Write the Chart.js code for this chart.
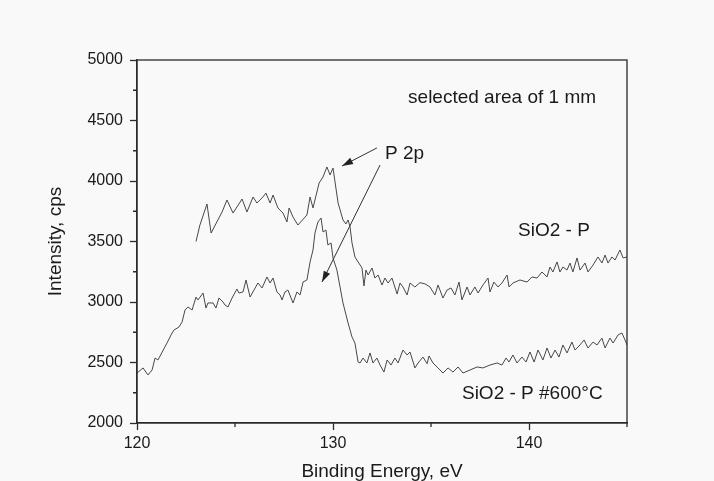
<!DOCTYPE html>
<html>
<head>
<meta charset="utf-8">
<script src="https://cdn.jsdelivr.net/npm/chart.js@4.4.0/dist/chart.umd.min.js"></script>
<style>
  html, body { margin: 0; padding: 0; background: #f9f9f9; }
  #wrap { width: 714px; height: 481px; }
</style>
</head>
<body>
<div id="wrap"><canvas id="xpsChart" width="714" height="481"></canvas></div>
<script>
// SiO2 - P (binding energy, eV / intensity, cps)
const energyP = [123.01, 123.21, 123.57, 123.78, 124.34, 124.59, 124.90, 125.36, 125.61, 125.92,
  126.12, 126.38, 126.58, 126.79, 126.94, 127.19, 127.45, 127.65, 127.76, 127.96,
  128.21, 128.67, 128.83, 128.98, 129.29, 129.49, 129.69, 129.85, 130.00, 130.26,
  130.51, 130.66, 130.77, 130.87, 130.97, 131.12, 131.38, 131.48, 131.58, 131.68,
  131.79, 131.99, 132.14, 132.30, 132.50, 132.65, 132.81, 133.01, 133.27, 133.42,
  133.57, 133.78, 133.93, 134.18, 134.44, 134.69, 134.95, 135.20, 135.36, 135.61,
  135.82, 136.02, 136.22, 136.43, 136.58, 136.84, 136.99, 137.24, 137.40, 137.65,
  137.91, 138.01, 138.21, 138.42, 138.62, 138.88, 138.98, 139.18, 139.54, 139.90,
  140.15, 140.41, 140.66, 140.92, 141.07, 141.22, 141.43, 141.58, 141.73, 141.94,
  142.09, 142.24, 142.45, 142.60, 142.86, 143.01, 143.27, 143.52, 143.72, 143.88,
  144.03, 144.23, 144.39, 144.64, 144.80, 145.00];
const countsP = [3500, 3636, 3810, 3570, 3744, 3843, 3735, 3851, 3744, 3868,
  3818, 3860, 3900, 3818, 3884, 3777, 3735, 3661, 3777, 3702,
  3636, 3719, 3868, 3777, 3983, 4033, 4116, 4050, 4107, 3818,
  3678, 3645, 3678, 3620, 3488, 3372, 3306, 3281, 3132, 3264,
  3223, 3281, 3198, 3223, 3140, 3198, 3157, 3198, 3066, 3157,
  3124, 3058, 3157, 3124, 3160, 3150, 3124, 3058, 3140, 3033,
  3099, 3116, 3058, 3165, 3017, 3124, 3058, 3124, 3074, 3140,
  3198, 3083, 3165, 3124, 3157, 3223, 3124, 3157, 3182, 3165,
  3207, 3198, 3248, 3207, 3289, 3248, 3331, 3248, 3289, 3264,
  3322, 3248, 3364, 3264, 3322, 3248, 3306, 3372, 3322, 3388,
  3322, 3372, 3347, 3430, 3364, 3372];

// SiO2 - P #600°C
const energyP600 = [120.00, 120.31, 120.56, 120.77, 120.92, 121.07, 121.53, 121.79, 121.89, 122.14,
  122.30, 122.45, 122.60, 122.81, 123.01, 123.11, 123.37, 123.52, 123.62, 123.88,
  124.03, 124.18, 124.39, 124.49, 124.64, 124.85, 125.10, 125.20, 125.41, 125.56,
  125.77, 125.97, 126.17, 126.38, 126.63, 126.79, 126.94, 127.14, 127.30, 127.40,
  127.55, 127.70, 127.96, 128.16, 128.32, 128.47, 128.67, 128.83, 128.98, 129.08,
  129.23, 129.39, 129.49, 129.64, 129.74, 129.90, 130.00, 130.20, 130.36, 130.51,
  130.77, 130.97, 131.12, 131.28, 131.38, 131.53, 131.73, 131.89, 132.04, 132.24,
  132.40, 132.60, 132.76, 132.96, 133.16, 133.32, 133.57, 133.78, 133.93, 134.18,
  134.34, 134.59, 134.80, 134.90, 135.10, 135.36, 135.61, 135.87, 136.12, 136.38,
  136.63, 136.99, 137.35, 137.65, 138.01, 138.37, 138.62, 138.83, 138.98, 139.18,
  139.39, 139.64, 139.85, 140.05, 140.26, 140.46, 140.71, 140.92, 141.12, 141.33,
  141.53, 141.73, 141.94, 142.19, 142.35, 142.60, 142.81, 143.01, 143.27, 143.47,
  143.72, 143.88, 144.13, 144.29, 144.54, 144.74, 144.90, 145.00];
const countsP600 = [2413, 2455, 2397, 2438, 2537, 2521, 2661, 2744, 2769, 2793,
  2835, 2934, 2959, 2934, 3041, 3017, 3074, 2950, 2992, 2992,
  2950, 3033, 3000, 2975, 2959, 3033, 3107, 3074, 3083, 3182,
  3041, 3099, 3157, 3116, 3207, 3157, 3198, 3083, 3058, 3017,
  3083, 3099, 2992, 3083, 3058, 3165, 3182, 3331, 3430, 3570,
  3661, 3694, 3579, 3595, 3471, 3488, 3364, 3264, 3124, 2992,
  2826, 2711, 2661, 2504, 2496, 2537, 2496, 2579, 2496, 2537,
  2479, 2421, 2521, 2479, 2537, 2496, 2603, 2562, 2587, 2455,
  2496, 2545, 2490, 2554, 2496, 2455, 2413, 2455, 2421, 2463,
  2413, 2438, 2463, 2455, 2479, 2496, 2479, 2537, 2504, 2562,
  2496, 2545, 2504, 2587, 2504, 2603, 2521, 2620, 2537, 2603,
  2545, 2645, 2579, 2669, 2603, 2645, 2686, 2620, 2669, 2645,
  2702, 2620, 2702, 2661, 2727, 2744, 2686, 2645];

const xTicks = [120, 130, 140];
const xMinorTicks = [125, 135, 145];
const yTicks = [2000, 2500, 3000, 3500, 4000, 4500, 5000];
const yMinorTicks = [2250, 2750, 3250, 3750, 4250, 4750];

const lineColor = '#474747';
const axisColor = '#2a2a2a';
const textColor = '#1a1a1a';
const fontFamily = "'Liberation Sans', Arial, sans-serif";

// text labels placed in data units
const notes = [
  { text: 'selected area of 1 mm', x: 133.83, y: 4645 },
  { text: 'P 2p', x: 132.65, y: 4182 },
  { text: 'SiO2 - P', x: 139.44, y: 3545 },
  { text: 'SiO2 - P #600\u00B0C', x: 136.58, y: 2198 }
];
const arrows = [
  { from: [132.24, 4273], to: [130.46, 4124] },
  { from: [132.40, 4132], to: [129.44, 3165] }
];

function pairs(xs, ys) {
  return xs.map((v, i) => ({ x: v, y: ys[i] }));
}

const framePlugin = {
  id: 'frame',
  afterDraw(chart) {
    const { ctx, chartArea: a, scales } = chart;
    ctx.save();
    ctx.strokeStyle = axisColor;
    ctx.lineWidth = 1.3;
    ctx.strokeRect(a.left, a.top, a.right - a.left, a.bottom - a.top);
    // minor ticks, pointing outward
    ctx.beginPath();
    xMinorTicks.forEach(v => {
      const px = scales.x.getPixelForValue(v);
      ctx.moveTo(px, a.bottom);
      ctx.lineTo(px, a.bottom + 4);
    });
    yMinorTicks.forEach(v => {
      const py = scales.y.getPixelForValue(v);
      ctx.moveTo(a.left, py);
      ctx.lineTo(a.left - 4, py);
    });
    ctx.stroke();

    // notes
    ctx.fillStyle = textColor;
    ctx.font = '19px ' + fontFamily;
    ctx.textAlign = 'left';
    ctx.textBaseline = 'alphabetic';
    notes.forEach(n => {
      ctx.fillText(n.text, scales.x.getPixelForValue(n.x), scales.y.getPixelForValue(n.y));
    });

    // arrows
    ctx.strokeStyle = '#333';
    ctx.fillStyle = '#222';
    ctx.lineWidth = 1;
    arrows.forEach(ar => {
      const x1 = scales.x.getPixelForValue(ar.from[0]);
      const y1 = scales.y.getPixelForValue(ar.from[1]);
      const x2 = scales.x.getPixelForValue(ar.to[0]);
      const y2 = scales.y.getPixelForValue(ar.to[1]);
      const ang = Math.atan2(y2 - y1, x2 - x1);
      ctx.beginPath();
      ctx.moveTo(x1, y1);
      ctx.lineTo(x2, y2);
      ctx.stroke();
      ctx.beginPath();
      ctx.moveTo(x2, y2);
      ctx.lineTo(x2 - 11 * Math.cos(ang) + 3.5 * Math.sin(ang), y2 - 11 * Math.sin(ang) - 3.5 * Math.cos(ang));
      ctx.lineTo(x2 - 11 * Math.cos(ang) - 3.5 * Math.sin(ang), y2 - 11 * Math.sin(ang) + 3.5 * Math.cos(ang));
      ctx.closePath();
      ctx.fill();
    });
    ctx.restore();
  }
};

const ctx = document.getElementById('xpsChart').getContext('2d');
const xpsChart = new Chart(ctx, {
  type: 'line',
  data: {
    datasets: [{
      label: 'SiO2 - P',
      data: pairs(energyP, countsP),
      borderColor: lineColor,
      borderWidth: 1,
      pointRadius: 0,
      fill: false,
      tension: 0
    }, {
      label: 'SiO2 - P #600\u00B0C',
      data: pairs(energyP600, countsP600),
      borderColor: lineColor,
      borderWidth: 1,
      pointRadius: 0,
      fill: false,
      tension: 0
    }]
  },
  options: {
    responsive: false,
    animation: false,
    layout: { padding: { top: 60, right: 87, bottom: 0, left: 0 } },
    plugins: {
      legend: { display: false },
      tooltip: { enabled: false }
    },
    scales: {
      x: {
        type: 'linear',
        min: 120,
        max: 145,
        afterBuildTicks: s => { s.ticks = xTicks.map(v => ({ value: v })); },
        afterFit: s => { s.height = 58; },
        grid: { drawOnChartArea: false, tickLength: 7, tickColor: axisColor, tickWidth: 1.3 },
        border: { color: axisColor, width: 1.3 },
        ticks: {
          color: textColor, padding: 4, maxRotation: 0,
          font: { size: 16, family: fontFamily },
          callback: v => String(v)
        },
        title: {
          display: true,
          text: 'Binding Energy, eV',
          color: textColor,
          font: { size: 19, family: fontFamily, lineHeight: 1 },
          padding: { top: 0, bottom: 0 }
        }
      },
      y: {
        min: 2000,
        max: 5000,
        afterBuildTicks: s => { s.ticks = yTicks.map(v => ({ value: v })); },
        afterFit: s => { s.width = 137; },
        grid: { drawOnChartArea: false, tickLength: 7, tickColor: axisColor, tickWidth: 1.3 },
        border: { color: axisColor, width: 1.3 },
        ticks: {
          color: textColor, padding: 7,
          font: { size: 16, family: fontFamily },
          callback: v => String(v)
        },
        title: {
          display: true,
          text: 'Intensity, cps',
          color: textColor,
          font: { size: 19, family: fontFamily, lineHeight: 1 },
          padding: { top: 46, bottom: 0 }
        }
      }
    }
  },
  plugins: [framePlugin]
});
</script>
</body>
</html>
